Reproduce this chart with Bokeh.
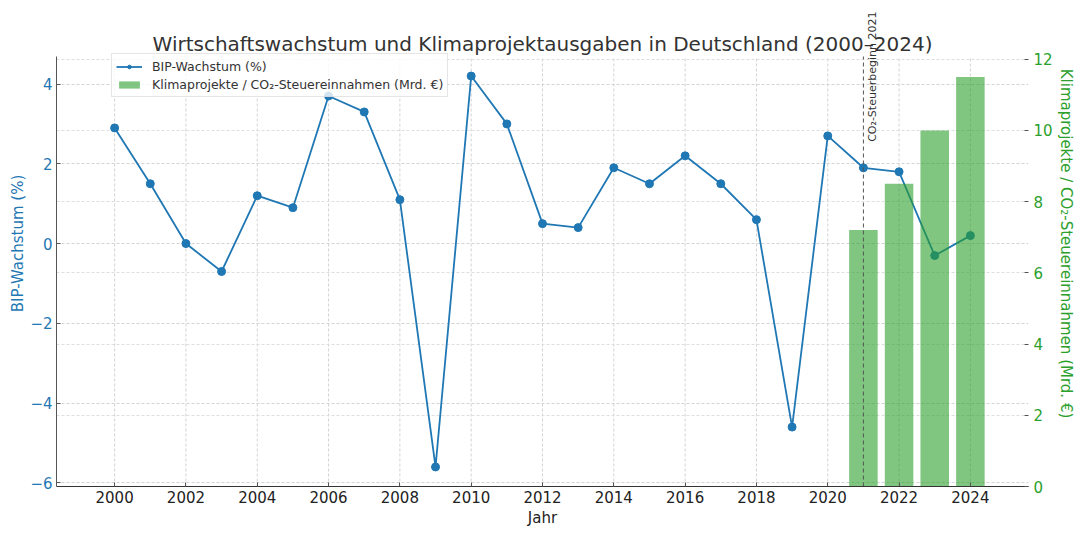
from math import pi

from bokeh.plotting import figure, ColumnDataSource
from bokeh.models import (Range1d, LinearAxis, FixedTicker, Grid, Label,
                          Legend, LegendItem, CustomJSTickFormatter)
from bokeh.embed import file_html
from bokeh.resources import INLINE

# data
years = list(range(2000, 2025))
bip_growth = [2.9, 1.5, 0.0, -0.7, 1.2, 0.9, 3.7, 3.3, 1.1, -5.6,
              4.2, 3.0, 0.5, 0.4, 1.9, 1.5, 2.2, 1.5, 0.6, -4.6,
              2.7, 1.9, 1.8, -0.3, 0.2]
klima_years = [2021, 2022, 2023, 2024]
klima_values = [7.2, 8.5, 10.0, 11.5]
co2_start = 2021
x_ticks = list(range(2000, 2025, 2))
left_ticks = [-6, -4, -2, 0, 2, 4]
right_ticks = [0, 2, 4, 6, 8, 10, 12]

BLUE = "#1f77b4"
GREEN = "#2ca02c"
FONT = "DejaVu Sans"

# visible plot area (axes limits as in the original)
X0, X1 = 1998.37, 2025.63
Y0, Y1 = -6.09, 4.69
R0, R1 = 0.0, 12.075

# the frame reaches up to the top of the canvas so that the rotated note
# above the plot area is not clipped; axes/grids are bounded to the plot area
W, H = 1080, 542
BOTTOM = 56
TOP_PAD = 56
frame_h = H - BOTTOM
stretch = frame_h / (frame_h - TOP_PAD)

p = figure(width=W, height=H, title=None,
           x_range=Range1d(X0, X1),
           y_range=Range1d(Y0, Y0 + (Y1 - Y0) * stretch),
           output_backend="svg", toolbar_location=None,
           min_border_left=56, min_border_right=52,
           min_border_top=0, min_border_bottom=BOTTOM)
p.extra_y_ranges = {"klima": Range1d(R0, R0 + (R1 - R0) * stretch)}
p.outline_line_color = None
p.background_fill_color = "white"

minus_fmt = CustomJSTickFormatter(
    code="return tick < 0 ? '\u2212' + Math.abs(tick) : tick.toString();")

def style_axis(ax, color, label_color):
    ax.major_label_text_font = FONT
    ax.major_label_text_font_size = "15px"
    ax.major_label_text_color = color
    ax.axis_label_text_font = FONT
    ax.axis_label_text_font_size = "15px"
    ax.axis_label_text_font_style = "normal"
    ax.axis_label_text_color = label_color
    ax.major_tick_in = 4
    ax.major_tick_out = 0
    ax.minor_tick_line_color = None
    ax.major_label_standoff = 4
    ax.axis_label_standoff = 3

xax = p.xaxis[0]
xax.ticker = FixedTicker(ticks=x_ticks)
xax.axis_label = "Jahr"
style_axis(xax, "#222222", "#222222")
xax.axis_line_color = "#333333"
xax.major_tick_line_color = "#555555"

yax = p.yaxis[0]
yax.ticker = FixedTicker(ticks=left_ticks)
yax.formatter = minus_fmt
yax.bounds = (Y0, Y1)
yax.axis_label = "BIP-Wachstum (%)"
style_axis(yax, BLUE, BLUE)
yax.axis_line_color = "#555555"
yax.major_tick_line_color = "#555555"
yax.axis_label_standoff = 0

rax = LinearAxis(y_range_name="klima", ticker=FixedTicker(ticks=right_ticks),
                 bounds=(R0, R1),
                 axis_label="Klimaprojekte / CO₂-Steuereinnahmen (Mrd. €)")
style_axis(rax, GREEN, GREEN)
rax.axis_line_color = None
rax.major_tick_line_color = "#555555"
rax.major_label_standoff = 5
rax.axis_label_standoff = 1
p.add_layout(rax, "right")

GRID = dict(line_color="#d3d3d3", line_dash="3 2", line_width=1)
p.xgrid.visible = False
p.ygrid.grid_line_color = GRID["line_color"]
p.ygrid.grid_line_dash = GRID["line_dash"]
rgrid = Grid(dimension=1, ticker=rax.ticker, y_range_name="klima",
             grid_line_color="#dedede", grid_line_dash="3 2", grid_line_width=1)
p.add_layout(rgrid)
p.segment(x0=x_ticks, y0=[Y0] * len(x_ticks), x1=x_ticks, y1=[Y1] * len(x_ticks),
          level="underlay", **GRID)

src = ColumnDataSource(data=dict(year=years, bip=bip_growth))
bars = ColumnDataSource(data=dict(year=klima_years, value=klima_values))

r_line = p.line("year", "bip", source=src, line_color=BLUE, line_width=1.8)
r_pts = p.scatter("year", "bip", source=src, size=8, fill_color=BLUE,
                  line_color=BLUE)
r_bar = p.vbar(x="year", top="value", bottom=0, width=0.8, source=bars,
               y_range_name="klima", fill_color=GREEN, fill_alpha=0.6,
               line_color=None)

p.segment(x0=[co2_start], y0=[Y0], x1=[co2_start], y1=[Y1],
          line_color="#555555", line_dash="4 3", line_width=1)
p.add_layout(Label(x=co2_start, y=2.55, text="CO₂-Steuerbeginn 2021", angle=pi / 2,
                   text_align="left", text_baseline="top", x_offset=3,
                   text_font=FONT, text_font_size="11px", text_color="#333333"))

p.add_layout(Label(x=(X0 + X1) / 2, y=Y1, y_offset=1,
                   text="Wirtschaftswachstum und Klimaprojektausgaben in Deutschland (2000–2024)",
                   text_align="center", text_baseline="bottom",
                   text_font=FONT, text_font_size="20px", text_color="#333333"))

legend = Legend(items=[
    LegendItem(label="BIP-Wachstum (%)", renderers=[r_line, r_pts]),
    LegendItem(label="Klimaprojekte / CO₂-Steuereinnahmen (Mrd. €)", renderers=[r_bar]),
], location=(55, 389))
legend.label_text_font = FONT
legend.label_text_font_size = "12.5px"
legend.label_text_color = "#333333"
legend.label_height = 16
legend.glyph_width = 26
legend.glyph_height = 9
legend.label_standoff = 10
legend.padding = 4
legend.spacing = 2
legend.border_line_color = "#cccccc"
legend.background_fill_alpha = 0.8
p.add_layout(legend)

open("out.html", "w").write(file_html(p, INLINE))
